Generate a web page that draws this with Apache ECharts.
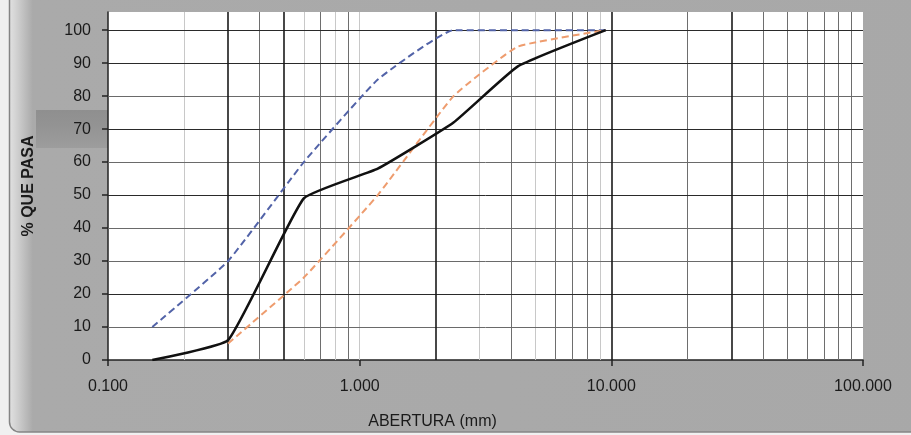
<!DOCTYPE html>
<html>
<head>
<meta charset="utf-8">
<script src="https://cdn.jsdelivr.net/npm/echarts@6/dist/echarts.min.js"></script>
<style>
  html, body { margin: 0; padding: 0; background: #f0f0f0; }
  #chart { width: 911px; height: 435px; }
</style>
</head>
<body>
<div id="chart"></div>
<script>
// aberturas de tamiz (mm) y % que pasa
var aberturas = [0.15, 0.3, 0.6, 1.18, 2.36, 4.25, 9.5];
var muestra = [0, 6, 49, 58, 72, 89, 100];
var limiteSuperior = [10, 30, 60, 85, 100, 100, 100];
var limiteInferior = [null, 5, 25, 50, 80, 95, 100];

var yTicks = [0, 10, 20, 30, 40, 50, 60, 70, 80, 90, 100];
var hLineasOscuras = [20, 50, 70, 90, 100];
var hLineasMedias = [10, 30, 40, 60, 80];
var vLineasGruesas = [0.3, 0.5, 2, 10, 30];
var vLineasMedias = [0.4, 0.7, 0.9, 4, 6, 7, 8, 20, 40, 50, 60, 70, 80, 90];
var vLineasClaras = [0.2, 0.6, 0.8, 1, 3, 5, 9];

function pares(ys){
    var out = [];
    for (var i = 0; i < aberturas.length; i++) {
        if (ys[i] !== null) out.push([aberturas[i], ys[i]]);
    }
    return out;
}

function lineas(valores, eje, color, ancho){
    return valores.map(function(v){
        var d = { lineStyle: { color: color, width: ancho, type: 'solid' } };
        d[eje] = v;
        return d;
    });
}

var gridLines = []
    .concat(lineas(vLineasClaras, 'xAxis', '#c8c8c8', 1))
    .concat(lineas(vLineasMedias, 'xAxis', '#6e6e6e', 1))
    .concat(lineas(hLineasMedias, 'yAxis', '#6a6a6a', 1))
    .concat(lineas(hLineasOscuras, 'yAxis', '#2a2a2a', 1))
    .concat(lineas(vLineasGruesas, 'xAxis', '#1a1a1a', 1.6));

var myChart = echarts.init(document.getElementById('chart'), null, { renderer: 'canvas' });
var font = 'Liberation Sans, Arial, sans-serif';

var option = {
    backgroundColor: '#f0f0f0',
    animation: false,
    graphic: [
        {
            type: 'rect', z: -10, silent: true,
            shape: { x: 9.5, y: -20, width: 960, height: 452, r: 10 },
            style: {
                fill: {
                    type: 'linear', x: 0, y: 0, x2: 1, y2: 0,
                    colorStops: [
                        { offset: 0, color: '#e2e2e2' },
                        { offset: 0.006, color: '#d6d6d6' },
                        { offset: 0.025, color: '#aaaaaa' },
                        { offset: 1, color: '#a8a8a8' }
                    ]
                },
                stroke: '#858585', lineWidth: 1.5
            }
        },
        {
            type: 'rect', z: -9, silent: true,
            shape: { x: 36, y: 110, width: 72, height: 38 },
            style: {
                fill: {
                    type: 'linear', x: 0, y: 0, x2: 0, y2: 1,
                    colorStops: [
                        { offset: 0, color: '#8f8f8f' },
                        { offset: 0.4, color: '#939393' },
                        { offset: 1, color: '#9d9d9d' }
                    ]
                }
            }
        }
    ],
    grid: {
        left: 108, right: 48, top: 12, bottom: 75,
        show: true, backgroundColor: '#ffffff', borderWidth: 0
    },
    xAxis: {
        type: 'log',
        logBase: 10,
        min: 0.1,
        max: 100,
        name: 'ABERTURA (mm)',
        nameLocation: 'middle',
        nameGap: 54,
        nameTextStyle: { color: '#1a1a1a', fontSize: 16, fontFamily: font, padding: [0, 106, 0, 0] },
        axisLine: { show: true, onZero: false, lineStyle: { color: '#222', width: 1.5 } },
        axisTick: { show: true, inside: false, length: 6, lineStyle: { color: '#222', width: 1.5 } },
        axisLabel: {
            color: '#1a1a1a', fontSize: 16, fontFamily: font, margin: 19,
            formatter: function(v){ return v.toFixed(3); }
        },
        splitLine: { show: false },
        minorTick: { show: false },
        minorSplitLine: { show: false }
    },
    yAxis: {
        type: 'value',
        min: 0,
        max: 105.5,
        interval: 10,
        name: '% QUE PASA',
        nameLocation: 'middle',
        nameGap: 71,
        nameTextStyle: { color: '#1a1a1a', fontSize: 16, fontWeight: 'bold', fontFamily: font },
        axisLine: { show: true, lineStyle: { color: '#222', width: 1.5 } },
        axisTick: { show: true, length: 6, customValues: yTicks, lineStyle: { color: '#222', width: 1.5 } },
        axisLabel: { color: '#1a1a1a', fontSize: 16, fontFamily: font, margin: 17, customValues: yTicks },
        splitLine: { show: false }
    },
    series: [
        {
            name: 'Límite superior',
            type: 'line',
            data: pares(limiteSuperior),
            symbol: 'none',
            smooth: 0.12,
            z: 3,
            lineStyle: { color: '#5263a8', width: 2, type: [7, 4] },
            markLine: {
                silent: true,
                z: 1,
                symbol: 'none',
                animation: false,
                label: { show: false },
                data: gridLines
            }
        },
        {
            name: 'Límite inferior',
            type: 'line',
            data: pares(limiteInferior),
            symbol: 'none',
            smooth: 0.12,
            z: 3,
            lineStyle: { color: '#ee9c6e', width: 2, type: [7, 4] }
        },
        {
            name: 'Muestra',
            type: 'line',
            data: pares(muestra),
            symbol: 'none',
            smooth: 0.12,
            z: 4,
            lineStyle: { color: '#111111', width: 2.6 }
        }
    ]
};

myChart.setOption(option);
</script>
</body>
</html>
